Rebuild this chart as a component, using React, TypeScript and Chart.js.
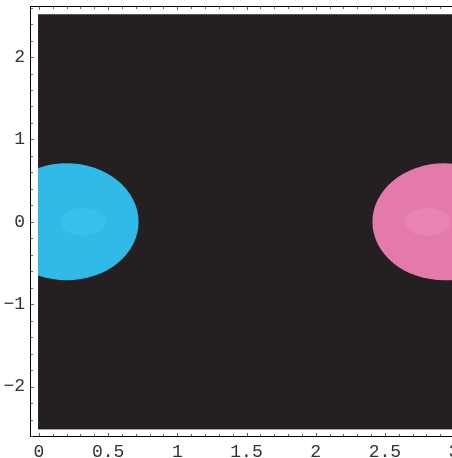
import React, { useEffect, useRef } from "react";
import { Chart, registerables } from "chart.js";
Chart.register(...registerables);

// Axis ticks
const xTicks = [0, 0.5, 1, 1.5, 2, 2.5, 3];
const xTickLabels = ["0", "0.5", "1", "1.5", "2", "2.5", "3"];
const yTicks = [-2, -1, 0, 1, 2];
const yTickLabels = ["\u22122", "\u22121", "0", "1", "2"];
const xMinorStep = 0.1;
const yMinorStep = 0.2;
const xRange = [-0.065, 3.065];
const yRange = [-2.6, 2.62];

// Dark background region
const bgX = [-0.007, 3.0];
const bgY = [-2.52, 2.52];
const bgColor = "#242022";

// Blobs (ellipses)
const blobX = [0.2, 2.93];
const blobY = [0, 0];
const blobRX = [0.52, 0.52];
const blobRY = [0.71, 0.71];
const blobColors = ["#31b9e7", "#e479ab"];

// Highlight spots
const spotX = [0.32, 2.81];
const spotY = [0, 0];
const spotRX = [0.163, 0.163];
const spotRY = [0.17, 0.17];
const spotColors = ["#38bfea", "#e984b4"];

const drawPlugin = {
  id: "mmaDraw",
  beforeDatasetsDraw(chart: any) {
    const { ctx, scales } = chart;
    const x = scales.x, y = scales.y;
    const x0 = x.getPixelForValue(bgX[0]);
    const x1 = x.getPixelForValue(bgX[1]);
    const yt = y.getPixelForValue(bgY[1]);
    const yb = y.getPixelForValue(bgY[0]);
    ctx.save();
    ctx.fillStyle = bgColor;
    ctx.fillRect(x0, yt, x1 - x0, yb - yt);
    ctx.beginPath();
    ctx.rect(x0, yt, x1 - x0, yb - yt);
    ctx.clip();
    const drawSet = (cxs: number[], cys: number[], rxs: number[], rys: number[], cols: string[]) => {
      cxs.forEach((cx, i) => {
        const px = x.getPixelForValue(cx);
        const py = y.getPixelForValue(cys[i]);
        const rx = Math.abs(x.getPixelForValue(cx + rxs[i]) - px);
        const ry = Math.abs(py - y.getPixelForValue(cys[i] + rys[i]));
        ctx.beginPath();
        ctx.ellipse(px, py, rx, ry, 0, 0, Math.PI * 2);
        ctx.fillStyle = cols[i];
        ctx.fill();
      });
    };
    drawSet(blobX, blobY, blobRX, blobRY, blobColors);
    drawSet(spotX, spotY, spotRX, spotRY, spotColors);
    ctx.restore();
  },
  afterDraw(chart: any) {
    const { ctx, chartArea, scales } = chart;
    const { left, right, top, bottom } = chartArea;
    const x = scales.x, y = scales.y;
    ctx.save();
    ctx.strokeStyle = "#000";
    ctx.lineWidth = 1;
    ctx.strokeRect(Math.round(left) + 0.5, Math.round(top) + 0.5, Math.round(right - left), Math.round(bottom - top));
    ctx.strokeStyle = "#666";
    ctx.beginPath();
    const xs = Math.ceil(xRange[0] / xMinorStep);
    const xe = Math.floor(xRange[1] / xMinorStep);
    for (let i = xs; i <= xe; i++) {
      const v = i * xMinorStep;
      const major = Math.abs(v / 0.5 - Math.round(v / 0.5)) < 1e-6;
      const len = major ? 3 : 2;
      const px = Math.round(x.getPixelForValue(v)) + 0.5;
      ctx.moveTo(px, Math.round(bottom));
      ctx.lineTo(px, Math.round(bottom) - len);
      ctx.moveTo(px, Math.round(top) + 1);
      ctx.lineTo(px, Math.round(top) + 1 + len);
    }
    const ys = Math.ceil(yRange[0] / yMinorStep);
    const ye = Math.floor(yRange[1] / yMinorStep);
    for (let i = ys; i <= ye; i++) {
      const v = i * yMinorStep;
      const major = Math.abs(v - Math.round(v)) < 1e-6;
      const len = major ? 3 : 2;
      const py = Math.round(y.getPixelForValue(v)) + 0.5;
      ctx.moveTo(Math.round(left) + 1, py);
      ctx.lineTo(Math.round(left) + 1 + len, py);
      ctx.moveTo(Math.round(right), py);
      ctx.lineTo(Math.round(right) - len, py);
    }
    ctx.stroke();
    ctx.restore();
  },
};

export default function App() {
  const ref = useRef<HTMLCanvasElement>(null);
  useEffect(() => {
    if (!ref.current) return;
    const font = { family: "'Liberation Mono', 'DejaVu Sans Mono', monospace", size: 18 };
    const chart = new Chart(ref.current, {
      type: "scatter",
      data: {
        datasets: [
          {
            data: blobX.map((v, i) => ({ x: v, y: blobY[i] })),
            pointRadius: 0,
            pointHoverRadius: 0,
          },
        ],
      },
      options: {
        responsive: false,
        animation: false,
        devicePixelRatio: 1,
        events: [],
        layout: { padding: { top: 6, right: 10, left: 0, bottom: 0 } },
        plugins: { legend: { display: false }, tooltip: { enabled: false } },
        scales: {
          x: {
            type: "linear",
            min: xRange[0],
            max: xRange[1],
            grid: { display: false, drawTicks: false },
            border: { display: false },
            afterBuildTicks: (s: any) => {
              s.ticks = xTicks.map((v) => ({ value: v }));
            },
            afterFit: (s: any) => {
              s.height = 22;
              s.paddingLeft = 0;
              s.paddingRight = 0;
              s.paddingTop = 0;
              s.paddingBottom = 0;
            },
            ticks: {
              font,
              color: "#333",
              padding: 5,
              autoSkip: false,
              maxRotation: 0,
              callback: (v: any) => {
                const i = xTicks.findIndex((t) => Math.abs(t - Number(v)) < 1e-9);
                return i >= 0 ? xTickLabels[i] : "";
              },
            },
          },
          y: {
            type: "linear",
            min: yRange[0],
            max: yRange[1],
            grid: { display: false, drawTicks: false },
            border: { display: false },
            afterBuildTicks: (s: any) => {
              s.ticks = yTicks.map((v) => ({ value: v }));
            },
            afterFit: (s: any) => {
              s.width = 30;
              s.paddingLeft = 0;
              s.paddingRight = 0;
              s.paddingTop = 0;
              s.paddingBottom = 0;
            },
            ticks: {
              font,
              color: "#333",
              padding: 5,
              autoSkip: false,
              callback: (v: any) => {
                const i = yTicks.findIndex((t) => Math.abs(t - Number(v)) < 1e-9);
                return i >= 0 ? yTickLabels[i] : "";
              },
            },
          },
        },
      },
      plugins: [drawPlugin],
    });
    return () => chart.destroy();
  }, []);
  return (
    <div
      style={{
        position: "fixed",
        left: 0,
        top: 0,
        width: 452,
        height: 458,
        overflow: "hidden",
        background: "#fff",
      }}
    >
      <canvas ref={ref} width={473} height={458} style={{ display: "block" }} />
    </div>
  );
}
